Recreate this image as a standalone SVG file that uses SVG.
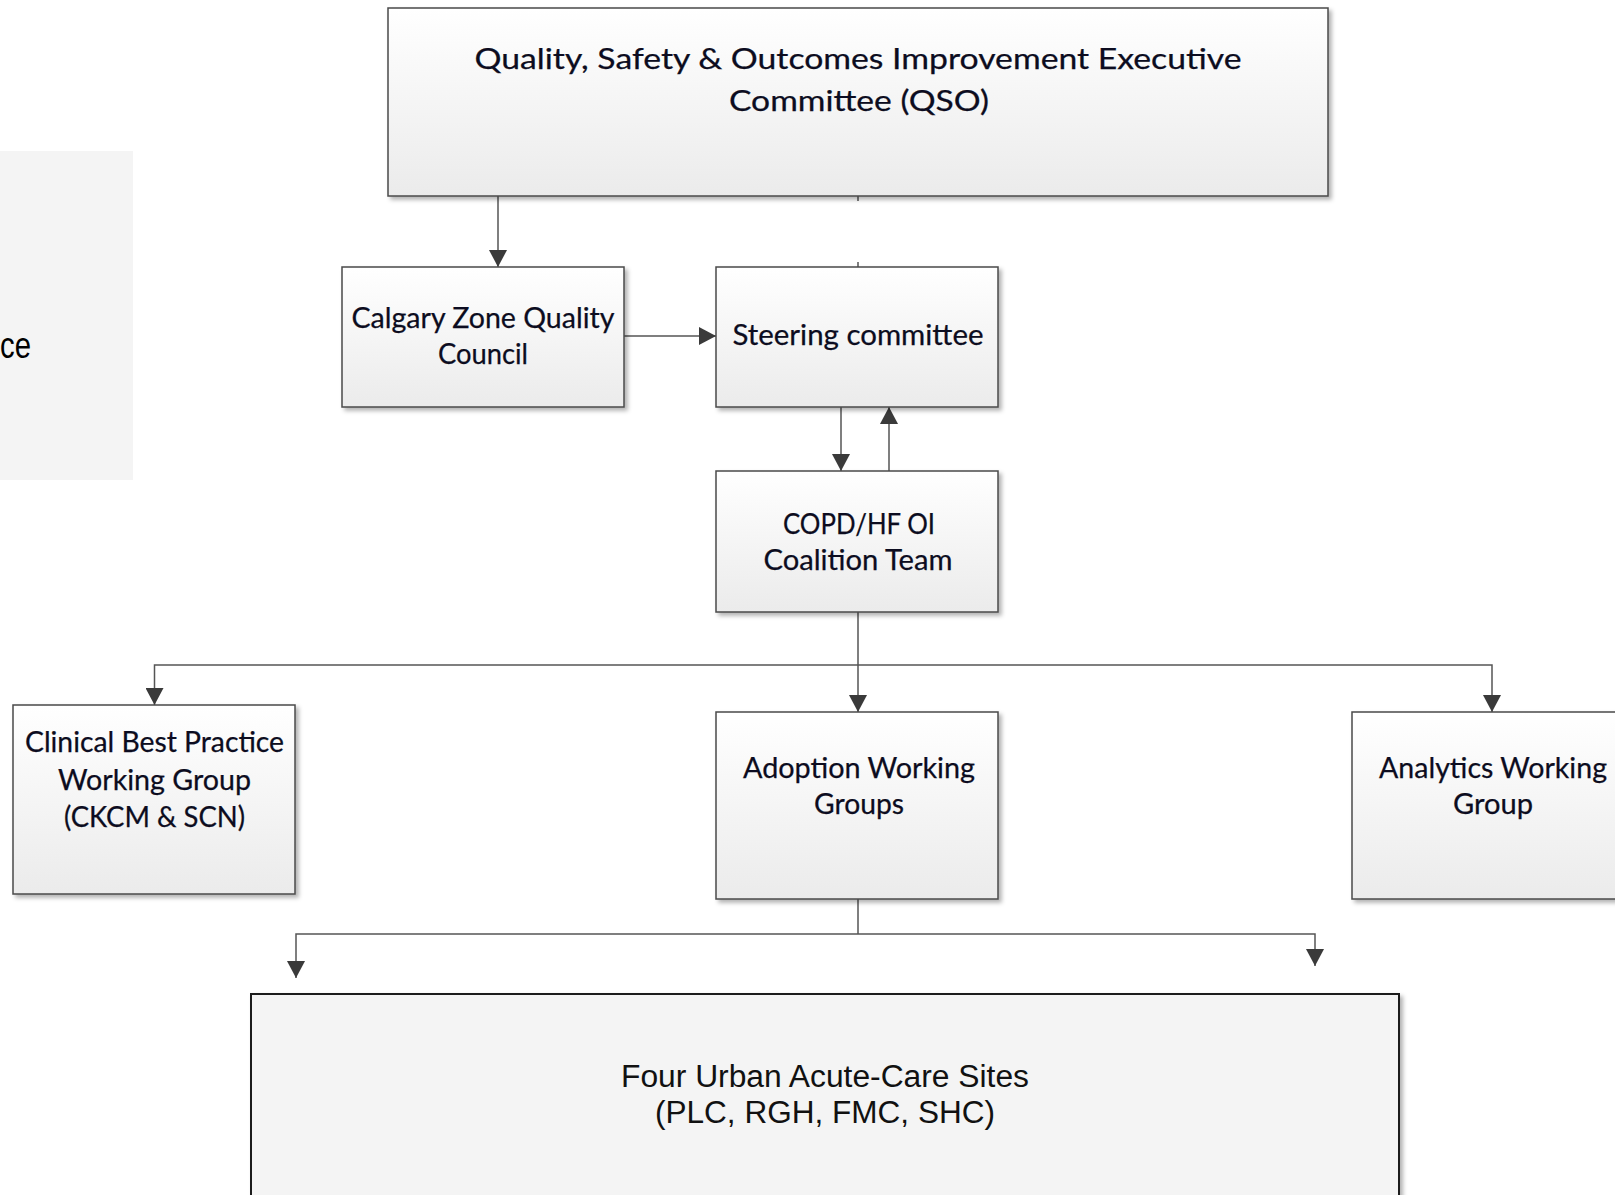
<svg xmlns="http://www.w3.org/2000/svg" width="1615" height="1195" viewBox="0 0 1615 1195">
<defs>
<linearGradient id="boxFill" x1="0" y1="0" x2="0" y2="1">
<stop offset="0" stop-color="#ffffff"/>
<stop offset="1" stop-color="#ebebeb"/>
</linearGradient>
<filter id="shadow" x="-5%" y="-5%" width="112%" height="115%">
<feDropShadow dx="3" dy="3" stdDeviation="2" flood-color="#000" flood-opacity="0.3"/>
</filter>
<marker id="arrow" viewBox="0 0 17 18" refX="17" refY="9" markerWidth="17" markerHeight="18" markerUnits="userSpaceOnUse" orient="auto">
<path d="M0,0 L17,9 L0,18 Z" fill="#3a3a3a"/>
</marker>
</defs>
<style>
.box{fill:url(#boxFill);stroke:#4a4a4a;stroke-width:1.5;filter:url(#shadow)}
.big{fill:#f4f4f4;stroke:#1a1a1a;stroke-width:2;filter:url(#shadow)}
.lbl{font-family:Lato,"Open Sans",sans-serif;font-size:29px;fill:#0c0c20;text-anchor:middle;stroke:#0c0c20;stroke-width:0.25}
.arial{font-family:"Liberation Sans",Arial,sans-serif;font-size:31px;fill:#111;text-anchor:middle}
.conn{fill:none;stroke:#555;stroke-width:1.5}
.arr{marker-end:url(#arrow)}
</style>
<rect width="1615" height="1195" fill="#ffffff"/>
<g id="side-panel">
<rect x="0" y="151" width="133" height="329" fill="#f4f4f4"/>
<text x="0" y="358" font-family="Liberation Sans, Arial, sans-serif" font-size="37" fill="#000" textLength="31" lengthAdjust="spacingAndGlyphs">ce</text>
</g>
<g id="connectors">
<path class="conn arr" d="M498,196 V267"/>
<path class="conn arr" d="M624,336 H716"/>
<path class="conn arr" d="M841,407 V471"/>
<path class="conn arr" d="M889,471 V407"/>
<path class="conn" d="M858,196 V201"/>
<path class="conn" d="M858,262 V267"/>
<path class="conn" d="M858,612 V665"/>
<path class="conn arr" d="M858,665 H154.5 V705"/>
<path class="conn arr" d="M858,665 V712"/>
<path class="conn arr" d="M858,665 H1492 V712"/>
<path class="conn" d="M858,899 V934"/>
<path class="conn arr" d="M858,934 H296 V978"/>
<path class="conn arr" d="M858,934 H1315 V966"/>
</g>
<g id="qso">
<rect class="box" x="388" y="8" width="940" height="188"/>
<text class="lbl" x="858" y="69" textLength="767" lengthAdjust="spacingAndGlyphs">Quality, Safety &amp; Outcomes Improvement Executive</text>
<text class="lbl" x="859" y="111" textLength="260" lengthAdjust="spacingAndGlyphs">Committee (QSO)</text>
</g>
<g id="calgary">
<rect class="box" x="342" y="267" width="282" height="140"/>
<text class="lbl" x="483" y="328" textLength="263" lengthAdjust="spacingAndGlyphs">Calgary Zone Quality</text>
<text class="lbl" x="483" y="364" textLength="90" lengthAdjust="spacingAndGlyphs">Council</text>
</g>
<g id="steering">
<rect class="box" x="716" y="267" width="282" height="140"/>
<text class="lbl" x="858" y="345" textLength="251" lengthAdjust="spacingAndGlyphs">Steering committee</text>
</g>
<g id="copd">
<rect class="box" x="716" y="471" width="282" height="141"/>
<text class="lbl" x="859" y="534" textLength="152" lengthAdjust="spacingAndGlyphs">COPD/HF OI</text>
<text class="lbl" x="858" y="570" textLength="189" lengthAdjust="spacingAndGlyphs">Coalition Team</text>
</g>
<g id="clinical">
<rect class="box" x="13" y="705" width="282" height="189"/>
<text class="lbl" x="154.5" y="752" textLength="259" lengthAdjust="spacingAndGlyphs">Clinical Best Practice</text>
<text class="lbl" x="154.5" y="790" textLength="193" lengthAdjust="spacingAndGlyphs">Working Group</text>
<text class="lbl" x="154.5" y="827" textLength="181" lengthAdjust="spacingAndGlyphs">(CKCM &amp; SCN)</text>
</g>
<g id="adoption">
<rect class="box" x="716" y="712" width="282" height="187"/>
<text class="lbl" x="859" y="778" textLength="232" lengthAdjust="spacingAndGlyphs">Adoption Working</text>
<text class="lbl" x="859" y="814" textLength="90" lengthAdjust="spacingAndGlyphs">Groups</text>
</g>
<g id="analytics">
<rect class="box" x="1352" y="712" width="290" height="187"/>
<text class="lbl" x="1493" y="778" textLength="228" lengthAdjust="spacingAndGlyphs">Analytics Working</text>
<text class="lbl" x="1493" y="814" textLength="80" lengthAdjust="spacingAndGlyphs">Group</text>
</g>
<g id="sites">
<rect class="big" x="251" y="994" width="1148" height="230"/>
<text class="arial" x="825" y="1087" textLength="408" lengthAdjust="spacingAndGlyphs">Four Urban Acute-Care Sites</text>
<text class="arial" x="825" y="1123" textLength="340" lengthAdjust="spacingAndGlyphs">(PLC, RGH, FMC, SHC)</text>
</g>
</svg>
